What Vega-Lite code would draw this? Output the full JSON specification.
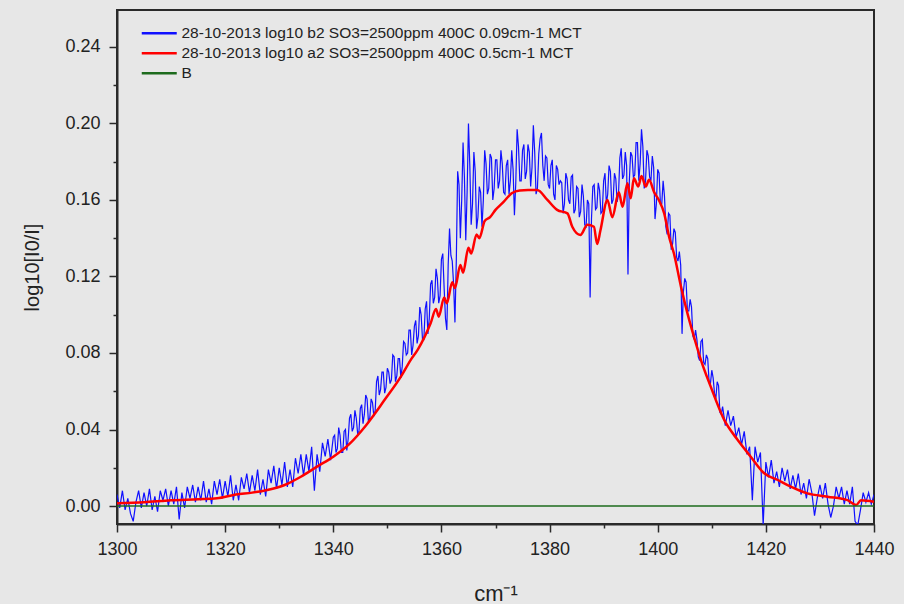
{
  "$schema": "https://vega.github.io/schema/vega-lite/v6.json",
  "width": 757,
  "height": 514,
  "autosize": {"type": "none"},
  "padding": {"left": 117, "top": 10, "right": 30, "bottom": 80},
  "background": "#e7e7e7",
  "config": {
    "view": {"stroke": "#2a2a2a", "strokeWidth": 2},
    "font": "Liberation Sans",
    "axis": {"grid": false, "domainColor": "#2a2a2a", "domainWidth": 2, "tickColor": "#2a2a2a", "tickWidth": 1.5, "labelColor": "#222222", "titleColor": "#222222", "labelFont": "Liberation Sans", "titleFont": "Liberation Sans", "titleFontWeight": "normal"}
  },
  "datasets": {
    "blue": [
      {"wn":1300,"v":0.006},{"wn":1300.5,"v":-0.001},{"wn":1301,"v":0.008},{"wn":1301.5,"v":-0.002},{"wn":1302,"v":0.004},{"wn":1302.5,"v":-0.004},{"wn":1303,"v":-0.008},{"wn":1303.5,"v":0.002},{"wn":1304,"v":0.008},{"wn":1304.5,"v":-0.001},
      {"wn":1305,"v":0.007},{"wn":1305.5,"v":0.000},{"wn":1306,"v":0.009},{"wn":1306.5,"v":-0.002},{"wn":1307,"v":0.005},{"wn":1307.5,"v":-0.003},{"wn":1308,"v":0.008},{"wn":1308.5,"v":0.003},{"wn":1309,"v":0.009},{"wn":1309.5,"v":0.000},
      {"wn":1310,"v":0.008},{"wn":1310.5,"v":0.001},{"wn":1311,"v":0.010},{"wn":1311.5,"v":-0.007},{"wn":1312,"v":0.007},{"wn":1312.5,"v":-0.001},{"wn":1313,"v":0.010},{"wn":1313.5,"v":0.004},{"wn":1314,"v":0.011},{"wn":1314.5,"v":0.002},
      {"wn":1315,"v":0.010},{"wn":1315.5,"v":0.003},{"wn":1316,"v":0.013},{"wn":1316.5,"v":0.002},{"wn":1317,"v":0.009},{"wn":1317.5,"v":0.001},{"wn":1318,"v":0.013},{"wn":1318.5,"v":0.006},{"wn":1319,"v":0.014},{"wn":1319.5,"v":0.004},
      {"wn":1320,"v":0.013},{"wn":1320.5,"v":0.005},{"wn":1321,"v":0.016},{"wn":1321.5,"v":0.003},{"wn":1322,"v":0.011},{"wn":1322.5,"v":0.003},{"wn":1323,"v":0.015},{"wn":1323.5,"v":0.009},{"wn":1324,"v":0.017},{"wn":1324.5,"v":0.007},
      {"wn":1325,"v":0.016},{"wn":1325.5,"v":0.008},{"wn":1326,"v":0.019},{"wn":1326.5,"v":0.006},{"wn":1327,"v":0.014},{"wn":1327.5,"v":0.005},{"wn":1328,"v":0.019},{"wn":1328.5,"v":0.012},{"wn":1329,"v":0.021},{"wn":1329.5,"v":0.009},
      {"wn":1330,"v":0.020},{"wn":1330.5,"v":0.011},{"wn":1331,"v":0.023},{"wn":1331.5,"v":0.010},{"wn":1332,"v":0.019},{"wn":1332.5,"v":0.010},{"wn":1333,"v":0.025},{"wn":1333.5,"v":0.017},{"wn":1334,"v":0.027},{"wn":1334.5,"v":0.016},
      {"wn":1335,"v":0.027},{"wn":1335.5,"v":0.018},{"wn":1336,"v":0.031},{"wn":1336.5,"v":0.008},{"wn":1337,"v":0.027},{"wn":1337.5,"v":0.018},{"wn":1338,"v":0.033},{"wn":1338.5,"v":0.026},{"wn":1339,"v":0.035},{"wn":1339.5,"v":0.024},
      {"wn":1340,"v":0.036},{"wn":1340.5,"v":0.028},{"wn":1341,"v":0.041},{"wn":1341.5,"v":0.028},{"wn":1342,"v":0.039},{"wn":1342.5,"v":0.029},{"wn":1343,"v":0.046},{"wn":1343.5,"v":0.039},{"wn":1344,"v":0.050},{"wn":1344.5,"v":0.038},
      {"wn":1345,"v":0.051},{"wn":1345.5,"v":0.043},{"wn":1346,"v":0.058},{"wn":1346.5,"v":0.044},{"wn":1347,"v":0.056},{"wn":1347.5,"v":0.047},{"wn":1348,"v":0.065},{"wn":1348.5,"v":0.058},{"wn":1349,"v":0.070},{"wn":1349.5,"v":0.059},
      {"wn":1350,"v":0.072},{"wn":1350.5,"v":0.064},{"wn":1351,"v":0.079},{"wn":1351.5,"v":0.065},{"wn":1352,"v":0.077},{"wn":1352.5,"v":0.067},{"wn":1353,"v":0.086},{"wn":1353.5,"v":0.079},{"wn":1354,"v":0.092},{"wn":1354.5,"v":0.079},
      {"wn":1355,"v":0.094},{"wn":1355.5,"v":0.085},{"wn":1356,"v":0.104},{"wn":1356.5,"v":0.087},{"wn":1357,"v":0.103},{"wn":1357.5,"v":0.090},{"wn":1358,"v":0.116},{"wn":1358.5,"v":0.106},{"wn":1359,"v":0.124},{"wn":1359.5,"v":0.106},
      {"wn":1360,"v":0.129},{"wn":1360.5,"v":0.114},{"wn":1361,"v":0.092},{"wn":1361.5,"v":0.145},{"wn":1362,"v":0.128},{"wn":1362.5,"v":0.096},{"wn":1363,"v":0.175},{"wn":1363.5,"v":0.140},{"wn":1364,"v":0.190},{"wn":1364.5,"v":0.139},
      {"wn":1365,"v":0.200},{"wn":1365.5,"v":0.147},{"wn":1366,"v":0.185},{"wn":1366.5,"v":0.145},{"wn":1367,"v":0.167},{"wn":1367.5,"v":0.146},{"wn":1368,"v":0.186},{"wn":1368.5,"v":0.163},{"wn":1369,"v":0.184},{"wn":1369.5,"v":0.160},
      {"wn":1370,"v":0.181},{"wn":1370.5,"v":0.166},{"wn":1371,"v":0.186},{"wn":1371.5,"v":0.164},{"wn":1372,"v":0.178},{"wn":1372.5,"v":0.163},{"wn":1373,"v":0.186},{"wn":1373.5,"v":0.152},{"wn":1374,"v":0.197},{"wn":1374.5,"v":0.170},
      {"wn":1375,"v":0.186},{"wn":1375.5,"v":0.171},{"wn":1376,"v":0.189},{"wn":1376.5,"v":0.167},{"wn":1377,"v":0.199},{"wn":1377.5,"v":0.163},{"wn":1378,"v":0.184},{"wn":1378.5,"v":0.195},{"wn":1379,"v":0.170},{"wn":1379.5,"v":0.182},
      {"wn":1380,"v":0.166},{"wn":1380.5,"v":0.181},{"wn":1381,"v":0.160},{"wn":1381.5,"v":0.176},{"wn":1382,"v":0.170},{"wn":1382.5,"v":0.153},{"wn":1383,"v":0.174},{"wn":1383.5,"v":0.160},{"wn":1384,"v":0.172},{"wn":1384.5,"v":0.153},
      {"wn":1385,"v":0.167},{"wn":1385.5,"v":0.151},{"wn":1386,"v":0.168},{"wn":1386.5,"v":0.147},{"wn":1387,"v":0.160},{"wn":1387.5,"v":0.109},{"wn":1388,"v":0.167},{"wn":1388.5,"v":0.155},{"wn":1389,"v":0.169},{"wn":1389.5,"v":0.153},
      {"wn":1390,"v":0.170},{"wn":1390.5,"v":0.158},{"wn":1391,"v":0.178},{"wn":1391.5,"v":0.158},{"wn":1392,"v":0.174},{"wn":1392.5,"v":0.159},{"wn":1393,"v":0.182},{"wn":1393.5,"v":0.171},{"wn":1394,"v":0.185},{"wn":1394.5,"v":0.121},
      {"wn":1395,"v":0.185},{"wn":1395.5,"v":0.172},{"wn":1396,"v":0.190},{"wn":1396.5,"v":0.170},{"wn":1397,"v":0.197},{"wn":1397.5,"v":0.166},{"wn":1398,"v":0.186},{"wn":1398.5,"v":0.172},{"wn":1399,"v":0.183},{"wn":1399.5,"v":0.150},
      {"wn":1400,"v":0.176},{"wn":1400.5,"v":0.158},{"wn":1401,"v":0.170},{"wn":1401.5,"v":0.146},{"wn":1402,"v":0.153},{"wn":1402.5,"v":0.134},{"wn":1403,"v":0.145},{"wn":1403.5,"v":0.130},{"wn":1404,"v":0.133},{"wn":1404.5,"v":0.090},
      {"wn":1405,"v":0.119},{"wn":1405.5,"v":0.102},{"wn":1406,"v":0.108},{"wn":1406.5,"v":0.089},{"wn":1407,"v":0.092},{"wn":1407.5,"v":0.078},{"wn":1408,"v":0.086},{"wn":1408.5,"v":0.075},{"wn":1409,"v":0.079},{"wn":1409.5,"v":0.065},
      {"wn":1410,"v":0.071},{"wn":1410.5,"v":0.059},{"wn":1411,"v":0.065},{"wn":1411.5,"v":0.049},{"wn":1412,"v":0.052},{"wn":1412.5,"v":0.042},{"wn":1413,"v":0.050},{"wn":1413.5,"v":0.042},{"wn":1414,"v":0.047},{"wn":1414.5,"v":0.036},
      {"wn":1415,"v":0.041},{"wn":1415.5,"v":0.032},{"wn":1416,"v":0.039},{"wn":1416.5,"v":0.027},{"wn":1417,"v":0.031},{"wn":1417.5,"v":0.003},{"wn":1418,"v":0.031},{"wn":1418.5,"v":0.023},{"wn":1419,"v":0.028},{"wn":1419.5,"v":-0.010},
      {"wn":1420,"v":0.023},{"wn":1420.5,"v":0.015},{"wn":1421,"v":0.024},{"wn":1421.5,"v":0.012},{"wn":1422,"v":0.018},{"wn":1422.5,"v":0.010},{"wn":1423,"v":0.020},{"wn":1423.5,"v":0.013},{"wn":1424,"v":0.019},{"wn":1424.5,"v":0.009},
      {"wn":1425,"v":0.016},{"wn":1425.5,"v":0.009},{"wn":1426,"v":0.017},{"wn":1426.5,"v":0.006},{"wn":1427,"v":0.012},{"wn":1427.5,"v":0.004},{"wn":1428,"v":0.014},{"wn":1428.5,"v":0.007},{"wn":1429,"v":-0.005},{"wn":1429.5,"v":0.004},
      {"wn":1430,"v":0.011},{"wn":1430.5,"v":0.004},{"wn":1431,"v":0.012},{"wn":1431.5,"v":0.001},{"wn":1432,"v":-0.006},{"wn":1432.5,"v":0.000},{"wn":1433,"v":0.010},{"wn":1433.5,"v":0.004},{"wn":1434,"v":0.010},{"wn":1434.5,"v":0.001},
      {"wn":1435,"v":0.008},{"wn":1435.5,"v":0.001},{"wn":1436,"v":0.010},{"wn":1436.5,"v":-0.008},{"wn":1437,"v":-0.010},{"wn":1437.5,"v":-0.002},{"wn":1438,"v":0.007},{"wn":1438.5,"v":0.002},{"wn":1439,"v":0.007},{"wn":1439.5,"v":0.001},
      {"wn":1440,"v":0.006},
      {"wn":1340.25,"v":0.037},{"wn":1340.75,"v":0.030},{"wn":1341.25,"v":0.037},{"wn":1341.75,"v":0.028},{"wn":1342.25,"v":0.040},{"wn":1342.75,"v":0.035},{"wn":1343.25,"v":0.048},{"wn":1343.75,"v":0.041},{"wn":1344.25,"v":0.046},{"wn":1344.75,"v":0.039},
      {"wn":1345.25,"v":0.053},{"wn":1345.75,"v":0.048},{"wn":1346.25,"v":0.056},{"wn":1346.75,"v":0.046},{"wn":1347.25,"v":0.054},{"wn":1347.75,"v":0.050},{"wn":1348.25,"v":0.068},{"wn":1348.75,"v":0.061},{"wn":1349.25,"v":0.070},{"wn":1349.75,"v":0.062},
      {"wn":1350.25,"v":0.070},{"wn":1350.75,"v":0.066},{"wn":1351.25,"v":0.078},{"wn":1351.75,"v":0.068},{"wn":1352.25,"v":0.077},{"wn":1352.75,"v":0.073},{"wn":1353.25,"v":0.085},{"wn":1353.75,"v":0.080},{"wn":1354.25,"v":0.092},{"wn":1354.75,"v":0.084},
      {"wn":1355.25,"v":0.097},{"wn":1355.75,"v":0.089},{"wn":1356.25,"v":0.100},{"wn":1356.75,"v":0.087},{"wn":1357.25,"v":0.107},{"wn":1357.75,"v":0.098},{"wn":1358.25,"v":0.118},{"wn":1358.75,"v":0.109},{"wn":1359.25,"v":0.119},{"wn":1359.75,"v":0.110},
      {"wn":1360.25,"v":0.132},{"wn":1360.75,"v":0.098},{"wn":1361.25,"v":0.126},{"wn":1361.75,"v":0.131},{"wn":1362.25,"v":0.116},{"wn":1362.75,"v":0.128},{"wn":1363.25,"v":0.168},{"wn":1363.75,"v":0.160},{"wn":1364.25,"v":0.172},{"wn":1364.75,"v":0.164},
      {"wn":1365.25,"v":0.178},{"wn":1365.75,"v":0.158},{"wn":1366.25,"v":0.175},{"wn":1366.75,"v":0.151},{"wn":1367.25,"v":0.164},{"wn":1367.75,"v":0.160},{"wn":1368.25,"v":0.179},{"wn":1368.75,"v":0.166},{"wn":1369.25,"v":0.182},{"wn":1369.75,"v":0.166},
      {"wn":1370.25,"v":0.181},{"wn":1370.75,"v":0.170},{"wn":1371.25,"v":0.179},{"wn":1371.75,"v":0.163},{"wn":1372.25,"v":0.181},{"wn":1372.75,"v":0.170},{"wn":1373.25,"v":0.176},{"wn":1373.75,"v":0.169},{"wn":1374.25,"v":0.188},{"wn":1374.75,"v":0.170},
      {"wn":1375.25,"v":0.189},{"wn":1375.75,"v":0.175},{"wn":1376.25,"v":0.185},{"wn":1376.75,"v":0.177},{"wn":1377.25,"v":0.185},{"wn":1377.75,"v":0.166},{"wn":1378.25,"v":0.192},{"wn":1378.75,"v":0.178},{"wn":1379.25,"v":0.183},{"wn":1379.75,"v":0.168},
      {"wn":1380.25,"v":0.178},{"wn":1380.75,"v":0.163},{"wn":1381.25,"v":0.178},{"wn":1381.75,"v":0.168},{"wn":1382.25,"v":0.169},{"wn":1382.75,"v":0.158},{"wn":1383.25,"v":0.171},{"wn":1383.75,"v":0.158},{"wn":1384.25,"v":0.173},{"wn":1384.75,"v":0.155},
      {"wn":1385.25,"v":0.166},{"wn":1385.75,"v":0.154},{"wn":1386.25,"v":0.162},{"wn":1386.75,"v":0.146},{"wn":1387.25,"v":0.158},{"wn":1387.75,"v":0.150},{"wn":1388.25,"v":0.168},{"wn":1388.75,"v":0.156},{"wn":1389.25,"v":0.165},{"wn":1389.75,"v":0.154},
      {"wn":1390.25,"v":0.174},{"wn":1390.75,"v":0.163},{"wn":1391.25,"v":0.175},{"wn":1391.75,"v":0.160},{"wn":1392.25,"v":0.171},{"wn":1392.75,"v":0.163},{"wn":1393.25,"v":0.187},{"wn":1393.75,"v":0.173},{"wn":1394.25,"v":0.178},{"wn":1394.75,"v":0.170},
      {"wn":1395.25,"v":0.183},{"wn":1395.75,"v":0.173},{"wn":1396.25,"v":0.190},{"wn":1396.75,"v":0.179},{"wn":1397.25,"v":0.188},{"wn":1397.75,"v":0.170},{"wn":1398.25,"v":0.183},{"wn":1398.75,"v":0.170},{"wn":1399.25,"v":0.177},{"wn":1399.75,"v":0.158},
      {"wn":1400.25,"v":0.174},{"wn":1400.75,"v":0.158},{"wn":1401.25,"v":0.162},{"wn":1401.75,"v":0.142},{"wn":1402.25,"v":0.152},{"wn":1402.75,"v":0.137},{"wn":1403.25,"v":0.143},{"wn":1403.75,"v":0.128},{"wn":1404.25,"v":0.126},{"wn":1404.75,"v":0.112},
      {"wn":1405.25,"v":0.117},{"wn":1405.75,"v":0.102},{"wn":1406.25,"v":0.104},{"wn":1406.75,"v":0.087},{"wn":1407.25,"v":0.087},{"wn":1407.75,"v":0.076},{"wn":1408.25,"v":0.087},{"wn":1408.75,"v":0.074},{"wn":1409.25,"v":0.077},{"wn":1409.75,"v":0.064},
      {"wn":1410.25,"v":0.067},{"wn":1410.75,"v":0.056},{"wn":1411.25,"v":0.063},{"wn":1411.75,"v":0.048}
    ],
    "red": [
      {"wn":1300,"v":0.0014},{"wn":1305,"v":0.002},{"wn":1310,"v":0.003},{"wn":1315,"v":0.0035},{"wn":1318.5,"v":0.004},{"wn":1322,"v":0.006},{"wn":1325,"v":0.007},{"wn":1327.8,"v":0.0084},{"wn":1331,"v":0.011},{"wn":1334,"v":0.0153},
      {"wn":1337,"v":0.0206},{"wn":1340,"v":0.0258},{"wn":1343,"v":0.0325},{"wn":1346,"v":0.042},{"wn":1349.5,"v":0.0555},{"wn":1352.5,"v":0.0676},{"wn":1354.3,"v":0.0763},{"wn":1355.6,"v":0.0816},{"wn":1358,"v":0.0955},{"wn":1359,"v":0.103},
      {"wn":1359.5,"v":0.099},{"wn":1360.5,"v":0.109},{"wn":1361,"v":0.106},{"wn":1362,"v":0.117},{"wn":1362.5,"v":0.114},{"wn":1363.5,"v":0.126},{"wn":1364,"v":0.122},{"wn":1365,"v":0.135},{"wn":1365.5,"v":0.132},{"wn":1366.5,"v":0.142},
      {"wn":1367,"v":0.140},{"wn":1368,"v":0.149},{"wn":1369,"v":0.151},{"wn":1370,"v":0.1548},{"wn":1371.5,"v":0.159},{"wn":1373,"v":0.1635},{"wn":1374.5,"v":0.165},{"wn":1376,"v":0.1652},{"wn":1377.7,"v":0.1652},{"wn":1379.6,"v":0.160},{"wn":1381.4,"v":0.1548},{"wn":1383.3,"v":0.153},
      {"wn":1384.2,"v":0.146},{"wn":1385.7,"v":0.1417},{"wn":1387,"v":0.147},{"wn":1388.2,"v":0.146},{"wn":1388.8,"v":0.137},{"wn":1389.4,"v":0.144},{"wn":1390.7,"v":0.160},{"wn":1391.6,"v":0.151},{"wn":1392.8,"v":0.164},{"wn":1393.5,"v":0.1565},
      {"wn":1394.4,"v":0.1687},{"wn":1395,"v":0.1609},{"wn":1395.6,"v":0.1713},{"wn":1396.4,"v":0.167},{"wn":1397,"v":0.1725},{"wn":1397.8,"v":0.167},{"wn":1398.4,"v":0.1705},{"wn":1399.3,"v":0.1643},{"wn":1400.2,"v":0.160},{"wn":1401.2,"v":0.153},
      {"wn":1402.1,"v":0.1408},{"wn":1403,"v":0.132},{"wn":1404.3,"v":0.1147},{"wn":1405.5,"v":0.1007},{"wn":1406.7,"v":0.0885},{"wn":1408,"v":0.0763},{"wn":1409.8,"v":0.0624},{"wn":1412.3,"v":0.045},{"wn":1414.8,"v":0.0345},{"wn":1417.2,"v":0.0258},
      {"wn":1419.7,"v":0.0171},{"wn":1422.2,"v":0.0136},{"wn":1424.6,"v":0.0101},{"wn":1427.7,"v":0.0066},{"wn":1431.4,"v":0.0049},{"wn":1435.1,"v":0.0031},{"wn":1436.7,"v":0.0005},{"wn":1437.6,"v":0.003},{"wn":1440,"v":0.0022}
    ],
    "green": [{"wn":1300,"v":0},{"wn":1440,"v":0}]
  },
  "layer": [
    {
      "data": {"name": "blue"},
      "mark": {"type": "line", "strokeWidth": 1.2, "clip": true},
      "encoding": {
        "x": {"field": "wn", "type": "quantitative", "scale": {"domain": [1300, 1440], "nice": false, "zero": false},
              "axis": {"orient": "bottom", "values": [1300,1310,1320,1330,1340,1350,1360,1370,1380,1390,1400,1410,1420,1430,1440],
                       "labelExpr": "datum.value % 20 === 0 ? format(datum.value, 'd') : ''",
                       "tickSize": {"condition": {"test": "datum.value % 20 === 0", "value": 8}, "value": 4},
                       "labelFontSize": 18, "labelPadding": 8, "title": "cm⁻¹", "titleFontSize": 22, "titlePadding": 25, "labelFlush": false, "labelOverlap": false}},
        "y": {"field": "v", "type": "quantitative", "scale": {"domain": [-0.0094, 0.2593], "nice": false, "zero": false},
              "axis": {"orient": "left", "values": [0,0.02,0.04,0.06,0.08,0.1,0.12,0.14,0.16,0.18,0.2,0.22,0.24],
                       "labelExpr": "round(datum.value * 100) % 4 === 0 ? format(datum.value, '.2f') : ''",
                       "tickSize": {"condition": {"test": "round(datum.value * 100) % 4 === 0", "value": 8}, "value": 4},
                       "labelFontSize": 18, "labelPadding": 9, "title": "log10[I0/I]", "titleFontSize": 20, "titlePadding": 22, "labelOverlap": false}},
        "color": {"datum": "28-10-2013 log10 b2 SO3=2500ppm 400C 0.09cm-1 MCT", "type": "nominal",
          "scale": {"domain": ["28-10-2013 log10 b2 SO3=2500ppm 400C 0.09cm-1 MCT", "28-10-2013 log10 a2 SO3=2500ppm 400C 0.5cm-1 MCT", "B"], "range": ["#1010ff", "#ff0000", "#1d6b1d"]},
          "legend": {"orient": "none", "legendX": 34.5, "legendY": 15.5, "title": null, "symbolType": "M-3.5,0H3.5", "symbolSize": 100, "symbolStrokeWidth": 2.5, "labelFontSize": 15.5, "labelFont": "Liberation Sans", "labelColor": "#222222", "labelOffset": 14.5, "labelLimit": 700, "rowPadding": 3, "padding": 0}}
      }
    },
    {
      "data": {"name": "red"},
      "mark": {"type": "line", "strokeWidth": 2.5, "clip": true, "interpolate": "monotone"},
      "encoding": {
        "x": {"field": "wn", "type": "quantitative"},
        "y": {"field": "v", "type": "quantitative"},
        "color": {"datum": "28-10-2013 log10 a2 SO3=2500ppm 400C 0.5cm-1 MCT", "type": "nominal"}
      }
    },
    {
      "data": {"name": "green"},
      "mark": {"type": "line", "strokeWidth": 1.6, "clip": true},
      "encoding": {
        "x": {"field": "wn", "type": "quantitative"},
        "y": {"field": "v", "type": "quantitative"},
        "color": {"datum": "B", "type": "nominal"}
      }
    }
  ]
}
